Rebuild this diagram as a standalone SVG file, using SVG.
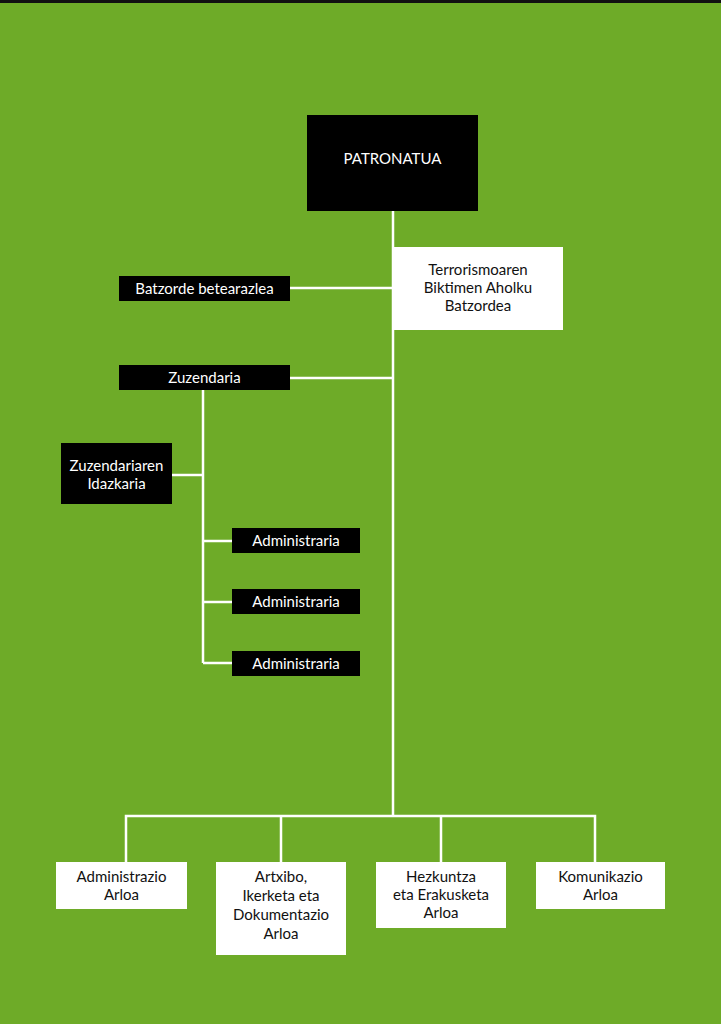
<svg xmlns="http://www.w3.org/2000/svg" width="721" height="1024" viewBox="0 0 721 1024">
<style>
.dk{fill:#000}
.wt{fill:#fff}
.tw{fill:#fff;font-family:Lato,"Liberation Sans",sans-serif;font-size:15px;text-anchor:middle}
.tb{fill:#111;font-family:Lato,"Liberation Sans",sans-serif;font-size:15px;text-anchor:middle}
.ln{stroke:#fff;stroke-width:2.5;fill:none}
</style>
<rect width="721" height="1024" fill="#6eab28"/>
<rect width="721" height="3" fill="#111"/>
<g id="connectors">
<path class="ln" d="M393 211V816"/>
<path class="ln" d="M290 288H393"/>
<path class="ln" d="M290 378H393"/>
<path class="ln" d="M203 390V663"/>
<path class="ln" d="M172 475H203"/>
<path class="ln" d="M203 541H232M203 602H232M203 663H232"/>
<path class="ln" d="M126 862V816H595V862M281 816V862M441 816V862"/>
</g>
<g id="patronatua"><rect class="dk" x="307" y="115" width="171" height="96"/><text class="tw" x="392.5" y="164">PATRONATUA</text></g>
<g id="aholku"><rect class="wt" x="393" y="247" width="170" height="83"/><text class="tb" x="478" y="275">Terrorismoaren</text><text class="tb" x="478" y="293">Biktimen Aholku</text><text class="tb" x="478" y="311">Batzordea</text></g>
<g id="batzorde"><rect class="dk" x="119" y="276" width="171" height="25"/><text class="tw" x="204.5" y="294">Batzorde betearazlea</text></g>
<g id="zuzendaria"><rect class="dk" x="119" y="365" width="171" height="25"/><text class="tw" x="204.5" y="383">Zuzendaria</text></g>
<g id="idazkaria"><rect class="dk" x="61" y="443" width="111" height="61"/><text class="tw" x="116.5" y="471">Zuzendariaren</text><text class="tw" x="116.5" y="489">Idazkaria</text></g>
<g id="admin1"><rect class="dk" x="232" y="528" width="128" height="25"/><text class="tw" x="296" y="546">Administraria</text></g>
<g id="admin2"><rect class="dk" x="232" y="589" width="128" height="25"/><text class="tw" x="296" y="607">Administraria</text></g>
<g id="admin3"><rect class="dk" x="232" y="651" width="128" height="25"/><text class="tw" x="296" y="669">Administraria</text></g>
<g id="adm-arloa"><rect class="wt" x="56" y="862" width="131" height="47"/><text class="tb" x="121.5" y="882">Administrazio</text><text class="tb" x="121.5" y="900">Arloa</text></g>
<g id="artxibo"><rect class="wt" x="216" y="862" width="130" height="93"/><text class="tb" x="281" y="882">Artxibo,</text><text class="tb" x="281" y="901">Ikerketa eta</text><text class="tb" x="281" y="920">Dokumentazio</text><text class="tb" x="281" y="939">Arloa</text></g>
<g id="hezkuntza"><rect class="wt" x="376" y="862" width="130" height="66"/><text class="tb" x="441" y="882">Hezkuntza</text><text class="tb" x="441" y="900">eta Erakusketa</text><text class="tb" x="441" y="918">Arloa</text></g>
<g id="komunikazio"><rect class="wt" x="536" y="862" width="129" height="47"/><text class="tb" x="600.5" y="882">Komunikazio</text><text class="tb" x="600.5" y="900">Arloa</text></g>
</svg>
